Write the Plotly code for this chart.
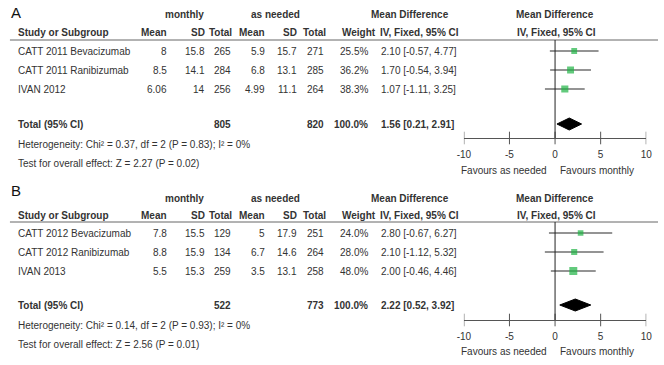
import plotly.graph_objects as go

W, H = 664, 365
FONT = "Liberation Sans, Arial, sans-serif"
TXT = "#333333"
GREEN = "#1fb344"
FS = 10

# ---------------- data ----------------
a_studies = ["CATT 2011 Bevacizumab", "CATT 2011 Ranibizumab", "IVAN 2012"]
a_m_mean = [8, 8.5, 6.06]
a_m_sd = [15.8, 14.1, 14]
a_m_n = [265, 284, 256]
a_n_mean = [5.9, 6.8, 4.99]
a_n_sd = [15.7, 13.1, 11.1]
a_n_n = [271, 285, 264]
a_weight = [25.5, 36.2, 38.3]
a_md = [2.10, 1.70, 1.07]
a_lo = [-0.57, -0.54, -1.11]
a_hi = [4.77, 3.94, 3.25]
a_total = [805, 820]
a_pooled = [1.56, 0.21, 2.91]
a_het = "Heterogeneity: Chi² = 0.37, df = 2 (P = 0.83); I² = 0%"
a_test = "Test for overall effect: Z = 2.27 (P = 0.02)"

b_studies = ["CATT 2012 Bevacizumab", "CATT 2012 Ranibizumab", "IVAN 2013"]
b_m_mean = [7.8, 8.8, 5.5]
b_m_sd = [15.5, 15.9, 15.3]
b_m_n = [129, 134, 259]
b_n_mean = [5, 6.7, 3.5]
b_n_sd = [17.9, 14.6, 13.1]
b_n_n = [251, 264, 258]
b_weight = [24.0, 28.0, 48.0]
b_md = [2.80, 2.10, 2.00]
b_lo = [-0.67, -1.12, -0.46]
b_hi = [6.27, 5.32, 4.46]
b_total = [522, 773]
b_pooled = [2.22, 0.52, 3.92]
b_het = "Heterogeneity: Chi² = 0.14, df = 2 (P = 0.93); I² = 0%"
b_test = "Test for overall effect: Z = 2.56 (P = 0.01)"

tick_vals = [-10, -5, 0, 5, 10]
tick_text = ["-10", "-5", "0", "5", "10"]

# ---------------- layout helpers ----------------
fig = go.Figure()
ann = []
shapes = []


def px(x):
    return x / W


def text(x, y, s, anchor="left", bold=False, size=FS, color=TXT):
    if bold:
        s = "<b>" + s + "</b>"
    ann.append(dict(x=px(x), y=y, xref="paper", yref="y", text=s, showarrow=False,
                    xanchor=anchor, yanchor="middle", borderpad=0,
                    font=dict(family=FONT, size=size, color=color)))


def panel(letter, P, studies, mm, msd, mn, nm, nsd, nn, wt, md, lo, hi, tot, pooled, het, test, xa):
    xref = "x" if xa == "" else "x" + xa
    text(3, P["letter"], letter, size=15, color="#111")
    text(181, P["group"], "monthly", "center", True)
    text(274, P["group"], "as needed", "center", True)
    text(411, P["group"], "Mean Difference", "center", True)
    text(559, P["group"], "Mean Difference", "center", True)
    hy = P["header"]
    text(10, hy, "Study or Subgroup", "left", True)
    for s, xr in [("Mean", 164), ("SD", 203), ("Total", 231), ("Mean", 264), ("SD", 297), ("Total", 326), ("Weight", 377)]:
        text(xr, hy, s, "right", True)
    text(379, hy, "IV, Fixed, 95% CI", "left", True)
    text(560, hy, "IV, Fixed, 95% CI", "center", True)
    shapes.append(dict(type="line", xref="paper", yref="y", x0=px(3), x1=1, y0=P["rule"], y1=P["rule"],
                       line=dict(color="#666", width=1)))
    for i, name in enumerate(studies):
        y = P["rows"][i]
        text(10, y, name)
        text(164, y, str(mm[i]), "right")
        text(203, y, str(msd[i]), "right")
        text(229, y, str(mn[i]), "right")
        text(264, y, str(nm[i]), "right")
        text(297, y, str(nsd[i]), "right")
        text(324, y, str(nn[i]), "right")
        text(369, y, f"{wt[i]:.1f}%", "right")
        text(380, y, f"{md[i]:.2f} [{lo[i]:.2f}, {hi[i]:.2f}]")
        fig.add_trace(go.Scatter(x=[lo[i], hi[i]], y=[y, y], mode="lines", xaxis=xref, yaxis="y",
                                 line=dict(color="#707070", width=1.3), showlegend=False, hoverinfo="skip"))
    fig.add_trace(go.Scatter(x=md, y=P["rows"], mode="markers", xaxis=xref, yaxis="y",
                             marker=dict(symbol="square", color=GREEN, size=[1.15 * w ** 0.5 for w in wt],
                                         line=dict(width=0)),
                             showlegend=False, hoverinfo="skip"))
    ty = P["total"]
    text(10, ty, "Total (95% CI)", "left", True)
    text(229, ty, str(tot[0]), "right", True)
    text(324, ty, str(tot[1]), "right", True)
    text(369, ty, "100.0%", "right", True)
    text(380, ty, f"{pooled[0]:.2f} [{pooled[1]:.2f}, {pooled[2]:.2f}]", "left", True)
    text(10, P["het"], het)
    text(10, P["test"], test)
    # diamond
    dh = 6
    fig.add_trace(go.Scatter(x=[pooled[1], pooled[0], pooled[2], pooled[0], pooled[1]],
                             y=[ty, ty - dh, ty, ty + dh, ty], mode="lines", fill="toself",
                             fillcolor="#000", line=dict(color="#000", width=1), xaxis=xref, yaxis="y",
                             showlegend=False, hoverinfo="skip"))
    # zero line
    shapes.append(dict(type="line", xref=xref, yref="y", x0=0, x1=0, y0=P["rule"], y1=P["axis"],
                       line=dict(color="#222", width=1)))
    # tick crosses
    fig.add_trace(go.Scatter(x=tick_vals, y=[P["axis"]] * len(tick_vals), mode="markers", xaxis=xref, yaxis="y",
                             marker=dict(symbol="line-ns-open", size=9, color="#555",
                                         line=dict(color="#555", width=1)),
                             showlegend=False, hoverinfo="skip"))
    text(552, P["fav"], "Favours as needed", "right")
    text(563, P["fav"], "Favours monthly", "left")


PA = dict(letter=12, group=14, header=32, rule=40, rows=[51, 70, 89], total=124, het=144, test=163,
          axis=138, fav=170)
PB = dict(letter=190, group=198, header=215, rule=222, rows=[233, 252, 271], total=305, het=325, test=344,
          axis=320, fav=351)

panel("A", PA, a_studies, a_m_mean, a_m_sd, a_m_n, a_n_mean, a_n_sd, a_n_n, a_weight, a_md, a_lo, a_hi,
      a_total, a_pooled, a_het, a_test, "")
panel("B", PB, b_studies, b_m_mean, b_m_sd, b_m_n, b_n_mean, b_n_sd, b_n_n, b_weight, b_md, b_lo, b_hi,
      b_total, b_pooled, b_het, b_test, "2")

xcommon = dict(domain=[px(466), px(652)], range=[-10, 10], showgrid=False, zeroline=False, showline=True,
               linecolor="#555", linewidth=1, ticks="", tickvals=tick_vals, ticktext=tick_text,
               tickfont=dict(family=FONT, size=FS, color=TXT), anchor="free", ticklabelstandoff=7,
               fixedrange=True)

fig.update_layout(
    width=W, height=H, margin=dict(l=0, r=0, t=0, b=0),
    paper_bgcolor="white", plot_bgcolor="rgba(0,0,0,0)",
    xaxis=dict(**xcommon, position=1 - PA["axis"] / H),
    xaxis2=dict(**xcommon, position=1 - PB["axis"] / H),
    yaxis=dict(range=[H, 0], domain=[0, 1], visible=False, fixedrange=True),
    annotations=ann, shapes=shapes, showlegend=False,
)

fig.write_html("out.html", config={"displayModeBar": False},
               post_script="document.body.style.margin='0';document.body.style.overflow='hidden';")
